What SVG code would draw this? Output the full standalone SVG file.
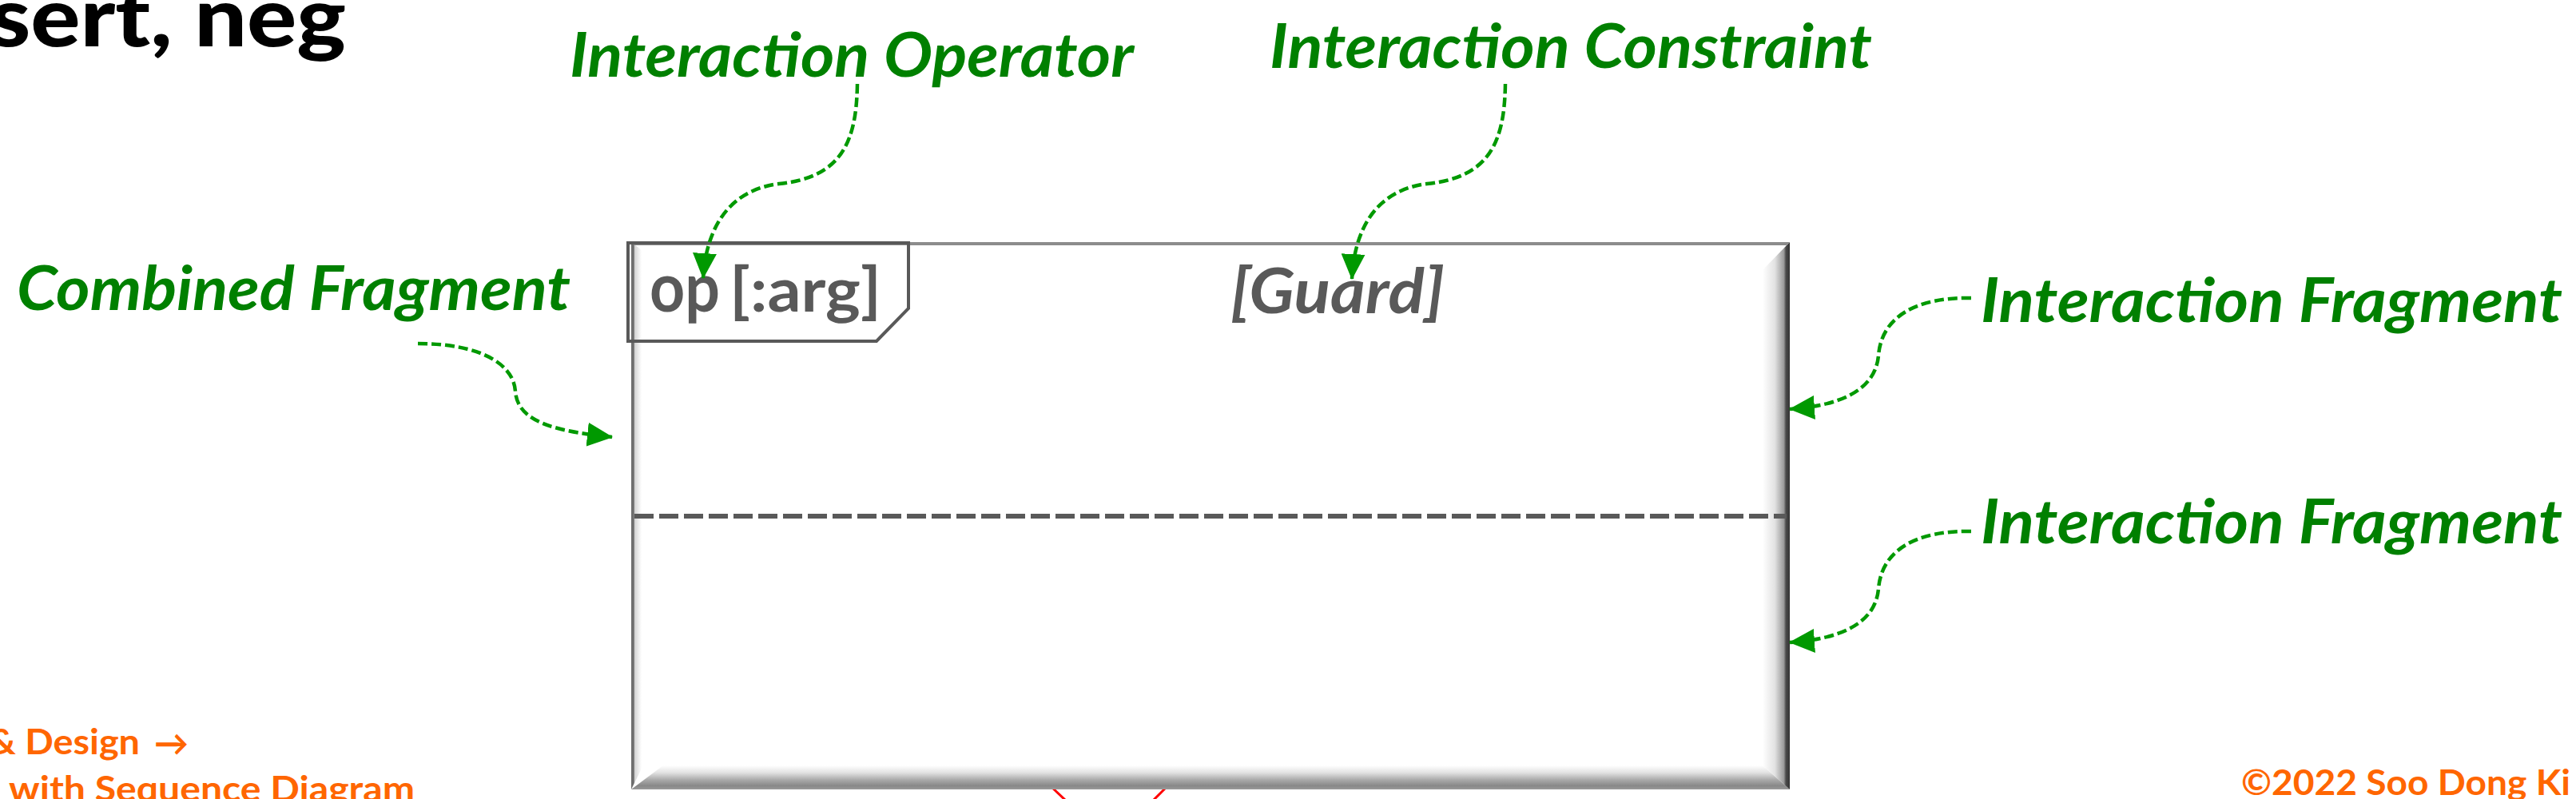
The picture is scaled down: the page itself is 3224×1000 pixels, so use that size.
<svg xmlns="http://www.w3.org/2000/svg" width="3224" height="1000" viewBox="0 0 3224 1000">
<defs>
<style>
.lbl{font-family:Lato,"Open Sans","Liberation Sans",sans-serif;font-weight:700;font-style:italic;font-size:76px;fill:#008000}
.grey{font-family:Lato,"Open Sans","Liberation Sans",sans-serif;font-weight:700;fill:#595959}
.org{font-family:Lato,"Open Sans","Liberation Sans",sans-serif;font-weight:700;font-size:44px;fill:#FF6600}
.ttl{font-family:Lato,"Open Sans","Liberation Sans",sans-serif;font-weight:900;font-size:102px;fill:#000000}
.conn{fill:none;stroke:#009900;stroke-width:4.5;stroke-dasharray:12 5;marker-end:url(#ah)}
.red{stroke:#FF0000;stroke-width:3;fill:none}
</style>
<marker id="ah" markerUnits="userSpaceOnUse" markerWidth="32" markerHeight="30" viewBox="0 0 32 30" refX="31" refY="15" orient="auto">
<path d="M0,0 L32,15 L0,30 Z" fill="#009900"/>
</marker>
<linearGradient id="gL" x1="0" y1="0" x2="1" y2="0">
<stop offset="0" stop-color="#6e6e6e"/><stop offset="0.25" stop-color="#6e6e6e"/><stop offset="0.35" stop-color="#d4d4d4"/><stop offset="1" stop-color="#ffffff"/>
</linearGradient>
<linearGradient id="gB" x1="0" y1="0" x2="0" y2="1">
<stop offset="0" stop-color="#ffffff"/><stop offset="0.3" stop-color="#e2e2e2"/><stop offset="0.6" stop-color="#aaaaaa"/><stop offset="0.85" stop-color="#888888"/><stop offset="1" stop-color="#9a9a9a"/>
</linearGradient>
<linearGradient id="gR" x1="0" y1="0" x2="1" y2="0">
<stop offset="0" stop-color="#ffffff"/><stop offset="0.45" stop-color="#e2e2e2"/><stop offset="0.78" stop-color="#9a9a9a"/><stop offset="0.86" stop-color="#4a4a4a"/><stop offset="1" stop-color="#333333"/>
</linearGradient>
</defs>
<rect width="3224" height="1000" fill="#ffffff"/>

<g id="title"><text class="ttl" x="-13" y="58" textLength="446" lengthAdjust="spacingAndGlyphs">sert, neg</text></g>

<g id="red-shape">
<line class="red" x1="1316" y1="985" x2="1334" y2="1002"/>
<line class="red" x1="1460" y1="985" x2="1443" y2="1002"/>
</g>

<g id="combined-fragment">
<rect x="790" y="303" width="1450" height="685" fill="#ffffff"/>
<polygon points="790,303 803,313 803,962 790,988" fill="url(#gL)"/>
<polygon points="790,988 830,958 2206,958 2240,988" fill="url(#gB)"/>
<polygon points="2240,303 2206,338 2206,958 2240,988" fill="url(#gR)"/>
<polygon points="790,303 2240,303 2236,307 794,307" fill="#8c8c8c"/>
<line x1="794" y1="646" x2="2236" y2="646" stroke="#595959" stroke-width="6" stroke-dasharray="24 7"/>
<path d="M786,304 L1137,304 L1137,386 L1097,427 L786,427 Z" fill="none" stroke="#595959" stroke-width="4"/>
<text class="grey" x="813" y="390" font-size="86" font-weight="800" textLength="88" lengthAdjust="spacingAndGlyphs">op</text>
<text class="grey" x="913" y="390" font-size="76" textLength="190" lengthAdjust="spacingAndGlyphs">[:arg]</text>
<text class="grey" x="1540" y="392" font-size="78" font-style="italic" textLength="268" lengthAdjust="spacingAndGlyphs">[Guard]</text>
</g>

<g id="label-interaction-operator"><text class="lbl" x="713" y="96" textLength="706" lengthAdjust="spacingAndGlyphs">Interaction Operator</text></g>
<g id="label-interaction-constraint"><text class="lbl" x="1589" y="85" textLength="754" lengthAdjust="spacingAndGlyphs">Interaction Constraint</text></g>
<g id="label-combined-fragment"><text class="lbl" x="21" y="388" textLength="693" lengthAdjust="spacingAndGlyphs">Combined Fragment</text></g>
<g id="label-interaction-fragment-1"><text class="lbl" x="2479" y="403" textLength="728" lengthAdjust="spacingAndGlyphs">Interaction Fragment</text></g>
<g id="label-interaction-fragment-2"><text class="lbl" x="2479" y="680" textLength="728" lengthAdjust="spacingAndGlyphs">Interaction Fragment</text></g>

<g id="connectors">
<path class="conn" d="M1073,105 C1072,175 1055,222 975,230 C925,236 885,270 880,348"/>
<path class="conn" d="M1884,105 C1883,175 1866,222 1786,230 C1736,236 1696,270 1692,349"/>
<path class="conn" d="M523,430 C600,430 643,455 645,490 C648,530 700,540 766,547"/>
<path class="conn" d="M2467,373 C2400,372 2355,395 2351,445 C2347,490 2300,508 2240,512"/>
<path class="conn" d="M2467,665 C2400,664 2355,687 2351,737 C2347,782 2300,800 2240,804"/>
</g>

<g id="footer">
<text class="org" x="-14" y="944" textLength="189" lengthAdjust="spacingAndGlyphs">&amp; Design</text>
<text class="org" x="193" y="946" font-family="'DejaVu Sans',sans-serif" font-size="64" textLength="43" lengthAdjust="spacingAndGlyphs">→</text>
<text class="org" x="11" y="1003" textLength="508" lengthAdjust="spacingAndGlyphs">with Sequence Diagram</text>
<text class="org" x="2805" y="995" textLength="412" lengthAdjust="spacingAndGlyphs">©2022 Soo Dong Ki</text>
</g>
</svg>
